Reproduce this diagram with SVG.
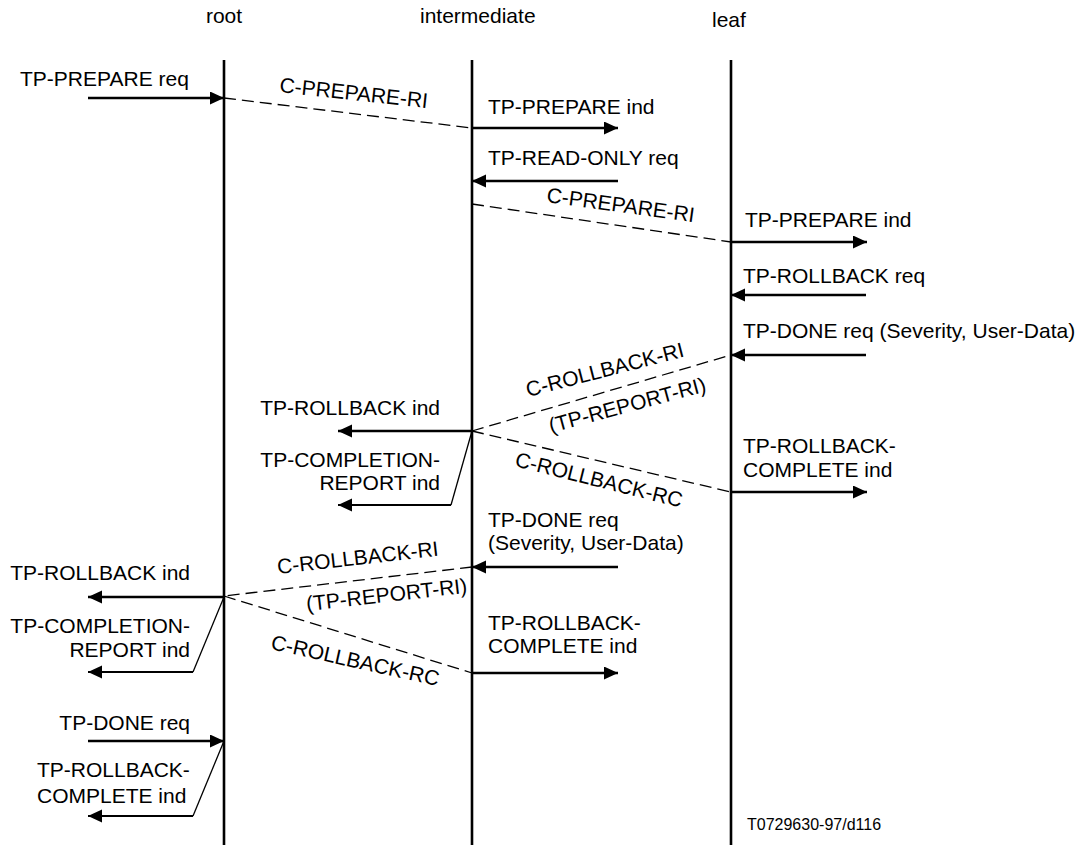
<svg xmlns="http://www.w3.org/2000/svg" width="1088" height="845" viewBox="0 0 1088 845">
<defs>
<marker id="ah" markerUnits="userSpaceOnUse" markerWidth="15" markerHeight="14" refX="14" refY="6.5" orient="auto">
<path d="M0,0 L14,6.5 L0,13 z" fill="#000"/>
</marker>
<style>
text{font-family:"Liberation Sans",Arial,sans-serif;font-size:21px;fill:#000}
.life{stroke:#000;stroke-width:2.6;fill:none}
.msg{stroke:#000;stroke-width:2.6;fill:none;marker-end:url(#ah)}
.msg2{stroke:#000;stroke-width:2.2;fill:none;marker-end:url(#ah)}
.dash{stroke:#000;stroke-width:1.3;fill:none;stroke-dasharray:12 6}
.thin{stroke:#000;stroke-width:1.3;fill:none}
.r{text-anchor:end}
.m{text-anchor:middle}
.foot{font-size:16px}
</style>
</defs>
<rect width="1088" height="845" fill="#fff"/>
<g id="root">
<text class="m" x="224" y="23">root</text>
<line class="life" x1="224" y1="60" x2="224" y2="845"/>
</g>
<g id="intermediate">
<text x="420" y="23">intermediate</text>
<line class="life" x1="472" y1="60" x2="472" y2="845"/>
</g>
<g id="leaf">
<text x="712" y="27">leaf</text>
<line class="life" x1="731" y1="60" x2="731" y2="845"/>
</g>
<g id="connectors">
<line class="msg" x1="88" y1="98" x2="224" y2="98"/>
<line class="dash" x1="224" y1="98" x2="472" y2="128"/>
<line class="msg" x1="472" y1="128" x2="618" y2="128"/>
<line class="msg" x1="618" y1="181" x2="472" y2="181"/>
<line class="dash" x1="472" y1="204" x2="731" y2="242"/>
<line class="msg" x1="731" y1="242" x2="867" y2="242"/>
<line class="msg" x1="866" y1="295" x2="731" y2="295"/>
<line class="msg" x1="866" y1="355" x2="731" y2="355"/>
<line class="dash" x1="472" y1="431" x2="731" y2="355"/>
<line class="dash" x1="472" y1="431" x2="731" y2="492"/>
<line class="msg" x1="472" y1="431" x2="338" y2="431"/>
<line class="thin" x1="472" y1="431" x2="451" y2="505"/>
<line class="msg2" x1="451" y1="505" x2="338" y2="505"/>
<line class="msg" x1="731" y1="492" x2="867" y2="492"/>
<line class="msg" x1="618" y1="567" x2="472" y2="567"/>
<line class="dash" x1="472" y1="567" x2="224" y2="596"/>
<line class="dash" x1="224" y1="596" x2="472" y2="673"/>
<line class="msg" x1="224" y1="597" x2="88" y2="597"/>
<line class="thin" x1="224" y1="597" x2="193" y2="672"/>
<line class="msg2" x1="193" y1="672" x2="88" y2="672"/>
<line class="msg" x1="472" y1="673" x2="618" y2="673"/>
<line class="msg" x1="88" y1="741" x2="224" y2="741"/>
<line class="thin" x1="224" y1="741" x2="193" y2="816"/>
<line class="msg2" x1="193" y1="816" x2="88" y2="816"/>
</g>
<g id="labels">
<text x="20" y="86">TP-PREPARE req</text>
<text transform="translate(279,92) rotate(6.2)">C-PREPARE-RI</text>
<text x="488" y="114">TP-PREPARE ind</text>
<text x="488" y="165">TP-READ-ONLY req</text>
<text transform="translate(546,202) rotate(7.8)">C-PREPARE-RI</text>
<text x="745" y="227">TP-PREPARE ind</text>
<text x="743" y="283">TP-ROLLBACK req</text>
<text x="743" y="338">TP-DONE req (Severity, User-Data)</text>
<text transform="translate(528,397) rotate(-14.5)">C-ROLLBACK-RI</text>
<text transform="translate(551,433) rotate(-15)">(TP-REPORT-RI)</text>
<text transform="translate(514,466) rotate(14)">C-ROLLBACK-RC</text>
<text class="r" x="440" y="415">TP-ROLLBACK ind</text>
<text class="r" x="440" y="467">TP-COMPLETION-</text>
<text class="r" x="440" y="490">REPORT ind</text>
<text x="743" y="453">TP-ROLLBACK-</text>
<text x="743" y="477">COMPLETE ind</text>
<text x="488" y="527">TP-DONE req</text>
<text x="488" y="550">(Severity, User-Data)</text>
<text transform="translate(278,574) rotate(-6.5)">C-ROLLBACK-RI</text>
<text transform="translate(307,611) rotate(-6.5)">(TP-REPORT-RI)</text>
<text transform="translate(270,649) rotate(12.5)">C-ROLLBACK-RC</text>
<text x="488" y="630">TP-ROLLBACK-</text>
<text x="488" y="653">COMPLETE ind</text>
<text class="r" x="190" y="580">TP-ROLLBACK ind</text>
<text class="r" x="190" y="633">TP-COMPLETION-</text>
<text class="r" x="190" y="657">REPORT ind</text>
<text class="r" x="190" y="730">TP-DONE req</text>
<text x="37" y="777">TP-ROLLBACK-</text>
<text x="37" y="803">COMPLETE ind</text>
<text class="foot" x="747" y="830">T0729630-97/d116</text>
</g>
</svg>
